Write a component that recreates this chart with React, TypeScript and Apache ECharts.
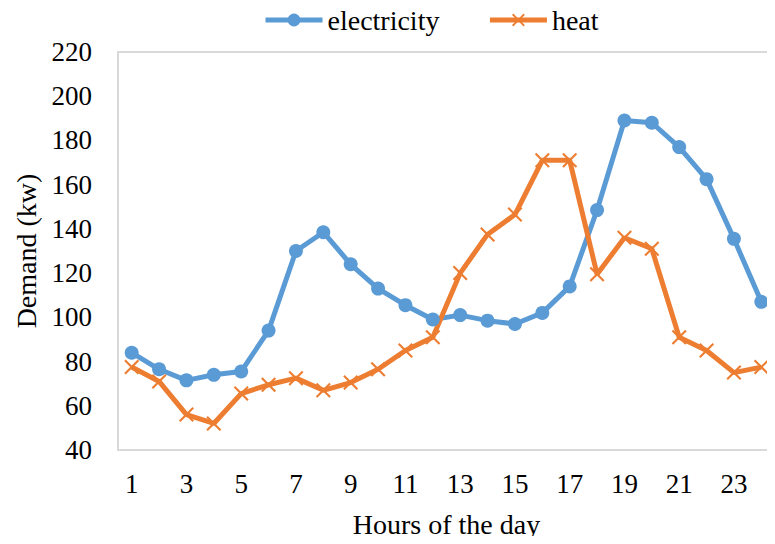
import React, { useEffect, useRef } from "react";
import * as echarts from "echarts";

// Hourly demand profile over one day
const hours: string[] = [
  "1", "2", "3", "4", "5", "6", "7", "8", "9", "10", "11", "12",
  "13", "14", "15", "16", "17", "18", "19", "20", "21", "22", "23", "24",
];
const electricity: number[] = [
  84, 76.5, 71.5, 74, 75.5, 94, 130, 138.5, 124, 113, 105.5, 99,
  101, 98.5, 97, 102, 114, 148.5, 189, 188, 177, 162.5, 135.5, 107,
];
const heat: number[] = [
  77.5, 71, 56, 52, 65.5, 69.5, 72.5, 67, 70.5, 76.5, 85, 91,
  120, 137.5, 146.5, 171, 171, 119.5, 136, 131, 91, 85, 75, 77.5,
];
const yMin = 40;
const yMax = 220;
const yStep = 20;

const BLUE = "#5B9BD5";
const ORANGE = "#ED7D31";
const FONT = "Liberation Serif";

// Filled "x" glyph used as the heat marker
const CROSS =
  "path://M0,1L1,0L5,4L9,0L10,1L6,5L10,9L9,10L5,6L1,10L0,9L4,5Z";

export default function App() {
  const ref = useRef<HTMLDivElement>(null);

  useEffect(() => {
    if (!ref.current) return;
    const chart = echarts.init(ref.current, null, { renderer: "svg" });
    chart.setOption({
      animation: false,
      backgroundColor: "#ffffff",
      textStyle: { fontFamily: FONT, color: "#000" },
      legend: {
        left: 263,
        top: 6,
        padding: 0,
        itemWidth: 57,
        itemHeight: 16,
        itemGap: 48,
        lineStyle: { width: 5 },
        formatter: "{t|{name}}",
        textStyle: {
          fontFamily: FONT,
          fontSize: 28,
          color: "#000",
          rich: {
            t: { fontFamily: FONT, fontSize: 28, color: "#000" },
          },
        },
        data: ["electricity", "heat"],
      },
      grid: {
        left: 118,
        top: 52,
        bottom: 94,
        right: -9,
        show: true,
        borderColor: "#d9d9d9",
        borderWidth: 2,
        containLabel: false,
      },
      xAxis: {
        type: "category",
        data: hours,
        boundaryGap: true,
        name: "Hours of the day",
        nameLocation: "middle",
        nameGap: 60,
        nameTextStyle: { fontFamily: FONT, fontSize: 28, color: "#000" },
        axisLine: { show: false },
        axisTick: { show: false },
        axisLabel: {
          interval: 1,
          margin: 20,
          fontFamily: FONT,
          fontSize: 27,
          color: "#000",
        },
        splitLine: { show: false },
      },
      yAxis: {
        type: "value",
        min: yMin,
        max: yMax,
        interval: yStep,
        name: "Demand (kw)",
        nameLocation: "middle",
        nameGap: 76,
        nameTextStyle: { fontFamily: FONT, fontSize: 28, color: "#000" },
        axisLine: { show: false },
        axisTick: { show: false },
        axisLabel: {
          margin: 26,
          fontFamily: FONT,
          fontSize: 27,
          color: "#000",
        },
        splitLine: { show: false },
      },
      series: [
        {
          name: "electricity",
          type: "line",
          data: electricity,
          symbol: "circle",
          symbolSize: 14,
          lineStyle: { color: BLUE, width: 5 },
          itemStyle: { color: BLUE },
        },
        {
          name: "heat",
          type: "line",
          data: heat,
          symbol: CROSS,
          symbolSize: 15,
          lineStyle: { color: ORANGE, width: 5 },
          itemStyle: { color: ORANGE },
        },
      ],
    });
    return () => chart.dispose();
  }, []);

  return <div ref={ref} style={{ width: 775, height: 544, margin: -8 }} />;
}
